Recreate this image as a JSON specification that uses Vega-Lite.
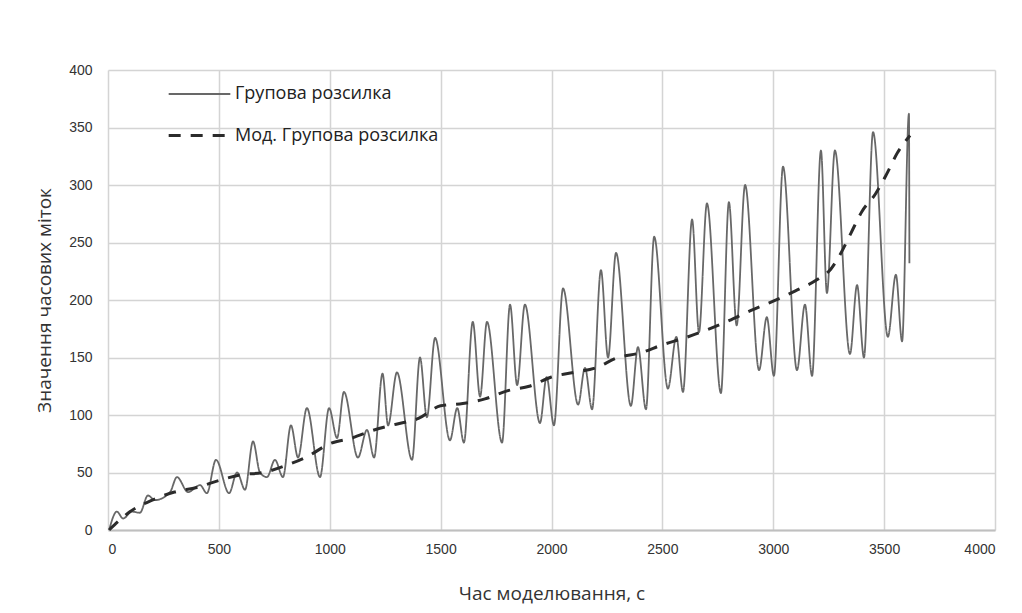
{
  "$schema": "https://vega.github.io/schema/vega-lite/v6.json",
  "width": 887,
  "height": 460,
  "autosize": {"type": "none"},
  "padding": {"left": 108, "top": 70, "right": 27, "bottom": 83},
  "background": "white",
  "config": {
    "view": {"stroke": null},
    "font": "Open Sans",
    "axis": {
      "gridColor": "#d4d4d4",
      "gridWidth": 1.5,
      "domain": false,
      "ticks": false,
      "labelColor": "#333333",
      "titleColor": "#333333",
      "labelFontSize": 14,
      "titleFontSize": 19,
      "titleFontWeight": "normal",
      "labelFont": "Liberation Sans",
      "titleFont": "Open Sans"
    },
    "legend": {
      "title": null,
      "orient": "none",
      "legendX": 59,
      "legendY": -8,
      "symbolType": "stroke",
      "symbolSize": 3800,
      "labelFontSize": 18,
      "labelColor": "#222222",
      "labelFont": "Open Sans",
      "labelLimit": 0,
      "rowPadding": -28,
      "labelOffset": 3
    }
  },
  "datasets": {
    "solid": [
      {"t": 5, "v": 0, "s": "Групова розсилка"},
      {"t": 40, "v": 16, "s": "Групова розсилка"},
      {"t": 68, "v": 10, "s": "Групова розсилка"},
      {"t": 108, "v": 16, "s": "Групова розсилка"},
      {"t": 144, "v": 15, "s": "Групова розсилка"},
      {"t": 180, "v": 30, "s": "Групова розсилка"},
      {"t": 212, "v": 26, "s": "Групова розсилка"},
      {"t": 280, "v": 33, "s": "Групова розсилка"},
      {"t": 311, "v": 46, "s": "Групова розсилка"},
      {"t": 361, "v": 33, "s": "Групова розсилка"},
      {"t": 415, "v": 39, "s": "Групова розсилка"},
      {"t": 446, "v": 32, "s": "Групова розсилка"},
      {"t": 487, "v": 61, "s": "Групова розсилка"},
      {"t": 546, "v": 32, "s": "Групова розсилка"},
      {"t": 582, "v": 50, "s": "Групова розсилка"},
      {"t": 618, "v": 35, "s": "Групова розсилка"},
      {"t": 654, "v": 77, "s": "Групова розсилка"},
      {"t": 685, "v": 50, "s": "Групова розсилка"},
      {"t": 717, "v": 46, "s": "Групова розсилка"},
      {"t": 753, "v": 61, "s": "Групова розсилка"},
      {"t": 789, "v": 46, "s": "Групова розсилка"},
      {"t": 825, "v": 91, "s": "Групова розсилка"},
      {"t": 857, "v": 63, "s": "Групова розсилка"},
      {"t": 897, "v": 106, "s": "Групова розсилка"},
      {"t": 956, "v": 46, "s": "Групова розсилка"},
      {"t": 997, "v": 106, "s": "Групова розсилка"},
      {"t": 1033, "v": 80, "s": "Групова розсилка"},
      {"t": 1064, "v": 120, "s": "Групова розсилка"},
      {"t": 1127, "v": 63, "s": "Групова розсилка"},
      {"t": 1168, "v": 87, "s": "Групова розсилка"},
      {"t": 1200, "v": 63, "s": "Групова розсилка"},
      {"t": 1238, "v": 136, "s": "Групова розсилка"},
      {"t": 1263, "v": 91, "s": "Групова розсилка"},
      {"t": 1303, "v": 137, "s": "Групова розсилка"},
      {"t": 1371, "v": 61, "s": "Групова розсилка"},
      {"t": 1407, "v": 150, "s": "Групова розсилка"},
      {"t": 1438, "v": 98, "s": "Групова розсилка"},
      {"t": 1475, "v": 167, "s": "Групова розсилка"},
      {"t": 1542, "v": 78, "s": "Групова розсилка"},
      {"t": 1575, "v": 106, "s": "Групова розсилка"},
      {"t": 1605, "v": 76, "s": "Групова розсилка"},
      {"t": 1645, "v": 181, "s": "Групова розсилка"},
      {"t": 1678, "v": 116, "s": "Групова розсилка"},
      {"t": 1709, "v": 181, "s": "Групова розсилка"},
      {"t": 1777, "v": 76, "s": "Групова розсилка"},
      {"t": 1813, "v": 196, "s": "Групова розсилка"},
      {"t": 1845, "v": 126, "s": "Групова розсилка"},
      {"t": 1880, "v": 196, "s": "Групова розсилка"},
      {"t": 1948, "v": 93, "s": "Групова розсилка"},
      {"t": 1978, "v": 133, "s": "Групова розсилка"},
      {"t": 2011, "v": 91, "s": "Групова розсилка"},
      {"t": 2052, "v": 210, "s": "Групова розсилка"},
      {"t": 2120, "v": 109, "s": "Групова розсилка"},
      {"t": 2151, "v": 141, "s": "Групова розсилка"},
      {"t": 2183, "v": 105, "s": "Групова розсилка"},
      {"t": 2223, "v": 226, "s": "Групова розсилка"},
      {"t": 2255, "v": 150, "s": "Групова розсилка"},
      {"t": 2291, "v": 241, "s": "Групова розсилка"},
      {"t": 2358, "v": 108, "s": "Групова розсилка"},
      {"t": 2390, "v": 159, "s": "Групова розсилка"},
      {"t": 2426, "v": 105, "s": "Групова розсилка"},
      {"t": 2463, "v": 255, "s": "Групова розсилка"},
      {"t": 2525, "v": 123, "s": "Групова розсилка"},
      {"t": 2563, "v": 168, "s": "Групова розсилка"},
      {"t": 2593, "v": 120, "s": "Групова розсилка"},
      {"t": 2634, "v": 270, "s": "Групова розсилка"},
      {"t": 2665, "v": 172, "s": "Групова розсилка"},
      {"t": 2701, "v": 284, "s": "Групова розсилка"},
      {"t": 2764, "v": 119, "s": "Групова розсилка"},
      {"t": 2800, "v": 285, "s": "Групова розсилка"},
      {"t": 2835, "v": 178, "s": "Групова розсилка"},
      {"t": 2873, "v": 300, "s": "Групова розсилка"},
      {"t": 2936, "v": 139, "s": "Групова розсилка"},
      {"t": 2971, "v": 185, "s": "Групова розсилка"},
      {"t": 3003, "v": 134, "s": "Групова розсилка"},
      {"t": 3044, "v": 316, "s": "Групова розсилка"},
      {"t": 3107, "v": 139, "s": "Групова розсилка"},
      {"t": 3143, "v": 196, "s": "Групова розсилка"},
      {"t": 3175, "v": 134, "s": "Групова розсилка"},
      {"t": 3215, "v": 330, "s": "Групова розсилка"},
      {"t": 3242, "v": 206, "s": "Групова розсилка"},
      {"t": 3278, "v": 330, "s": "Групова розсилка"},
      {"t": 3346, "v": 153, "s": "Групова розсилка"},
      {"t": 3378, "v": 213, "s": "Групова розсилка"},
      {"t": 3409, "v": 150, "s": "Групова розсилка"},
      {"t": 3450, "v": 346, "s": "Групова розсилка"},
      {"t": 3517, "v": 168, "s": "Групова розсилка"},
      {"t": 3553, "v": 222, "s": "Групова розсилка"},
      {"t": 3581, "v": 164, "s": "Групова розсилка"},
      {"t": 3612, "v": 362, "s": "Групова розсилка"},
      {"t": 3614, "v": 232, "s": "Групова розсилка"}
    ],
    "dashed": [
      {"t": 5, "v": 0, "s": "Мод. Групова розсилка"},
      {"t": 100, "v": 16, "s": "Мод. Групова розсилка"},
      {"t": 200, "v": 26, "s": "Мод. Групова розсилка"},
      {"t": 300, "v": 33, "s": "Мод. Групова розсилка"},
      {"t": 400, "v": 37, "s": "Мод. Групова розсилка"},
      {"t": 500, "v": 43, "s": "Мод. Групова розсилка"},
      {"t": 600, "v": 48, "s": "Мод. Групова розсилка"},
      {"t": 700, "v": 50, "s": "Мод. Групова розсилка"},
      {"t": 800, "v": 56, "s": "Мод. Групова розсилка"},
      {"t": 900, "v": 64, "s": "Мод. Групова розсилка"},
      {"t": 1000, "v": 75, "s": "Мод. Групова розсилка"},
      {"t": 1100, "v": 80, "s": "Мод. Групова розсилка"},
      {"t": 1200, "v": 87, "s": "Мод. Групова розсилка"},
      {"t": 1300, "v": 92, "s": "Мод. Групова розсилка"},
      {"t": 1400, "v": 97, "s": "Мод. Групова розсилка"},
      {"t": 1500, "v": 108, "s": "Мод. Групова розсилка"},
      {"t": 1600, "v": 110, "s": "Мод. Групова розсилка"},
      {"t": 1700, "v": 114, "s": "Мод. Групова розсилка"},
      {"t": 1800, "v": 121, "s": "Мод. Групова розсилка"},
      {"t": 1900, "v": 125, "s": "Мод. Групова розсилка"},
      {"t": 2000, "v": 133, "s": "Мод. Групова розсилка"},
      {"t": 2100, "v": 137, "s": "Мод. Групова розсилка"},
      {"t": 2200, "v": 141, "s": "Мод. Групова розсилка"},
      {"t": 2300, "v": 150, "s": "Мод. Групова розсилка"},
      {"t": 2400, "v": 154, "s": "Мод. Групова розсилка"},
      {"t": 2500, "v": 161, "s": "Мод. Групова розсилка"},
      {"t": 2600, "v": 167, "s": "Мод. Групова розсилка"},
      {"t": 2700, "v": 174, "s": "Мод. Групова розсилка"},
      {"t": 2800, "v": 182, "s": "Мод. Групова розсилка"},
      {"t": 2900, "v": 191, "s": "Мод. Групова розсилка"},
      {"t": 3000, "v": 199, "s": "Мод. Групова розсилка"},
      {"t": 3100, "v": 208, "s": "Мод. Групова розсилка"},
      {"t": 3200, "v": 218, "s": "Мод. Групова розсилка"},
      {"t": 3260, "v": 227, "s": "Мод. Групова розсилка"},
      {"t": 3300, "v": 239, "s": "Мод. Групова розсилка"},
      {"t": 3350, "v": 258, "s": "Мод. Групова розсилка"},
      {"t": 3400, "v": 277, "s": "Мод. Групова розсилка"},
      {"t": 3460, "v": 292, "s": "Мод. Групова розсилка"},
      {"t": 3510, "v": 309, "s": "Мод. Групова розсилка"},
      {"t": 3560, "v": 328, "s": "Мод. Групова розсилка"},
      {"t": 3617, "v": 343, "s": "Мод. Групова розсилка"}
    ]
  },
  "encoding": {
    "x": {
      "field": "t",
      "type": "quantitative",
      "scale": {"domain": [0, 4000], "nice": false},
      "axis": {"values": [0, 500, 1000, 1500, 2000, 2500, 3000, 3500, 4000], "title": "Час моделювання,  с", "labelPadding": 12, "titlePadding": 28, "format": "d", "domain": true, "domainColor": "#bfbfbf", "domainWidth": 2}
    },
    "y": {
      "field": "v",
      "type": "quantitative",
      "scale": {"domain": [0, 400], "nice": false},
      "axis": {"values": [0, 50, 100, 150, 200, 250, 300, 350, 400], "title": "Значення часових міток", "labelPadding": 16, "titlePadding": 14}
    },
    "color": {
      "field": "s",
      "type": "nominal",
      "scale": {"domain": ["Групова розсилка", "Мод. Групова розсилка"], "range": ["#686868", "#2b2b2b"]}
    },
    "strokeDash": {
      "field": "s",
      "type": "nominal",
      "scale": {"domain": ["Групова розсилка", "Мод. Групова розсилка"], "range": [[1, 0], [12, 10]]}
    },
    "strokeWidth": {
      "field": "s",
      "type": "nominal",
      "scale": {"domain": ["Групова розсилка", "Мод. Групова розсилка"], "range": [1.8, 3]}
    }
  },
  "layer": [
    {"data": {"name": "solid"}, "mark": {"type": "line", "interpolate": "monotone"}},
    {"data": {"name": "dashed"}, "mark": {"type": "line", "interpolate": "monotone"}}
  ]
}
